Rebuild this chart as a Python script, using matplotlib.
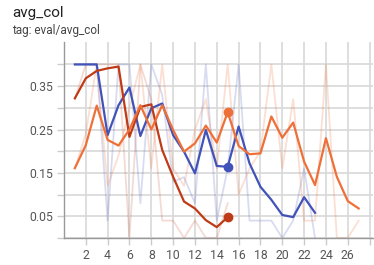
import matplotlib
matplotlib.use("Agg")
import matplotlib.pyplot as plt

plt.rcParams['font.family'] = ['Roboto', 'DejaVu Sans']

# step numbers
steps_blue = list(range(1, 24))
steps_red = list(range(1, 16))
steps_orange = list(range(1, 28))

# raw values (faint lines)
blue_raw = [0.40, 0.40, 0.40, 0.04, 0.40, 0.40, 0.08, 0.40, 0.33, 0.13, 0.14, 0.08,
            0.40, 0.04, 0.16, 0.40, 0.04, 0.04, 0.04, 0.00, 0.04, 0.16, 0.00]
red_raw = [0.32, 0.40, 0.40, 0.40, 0.40, 0.00, 0.40, 0.32, 0.04, 0.04, 0.00, 0.04,
           0.00, 0.00, 0.08]
orange_raw = [0.16, 0.24, 0.40, 0.12, 0.19, 0.30, 0.40, 0.16, 0.40, 0.16, 0.12, 0.25,
              0.32, 0.16, 0.40, 0.10, 0.16, 0.20, 0.40, 0.16, 0.32, 0.04, 0.04, 0.40,
              0.00, 0.00, 0.04]

# smoothed values (bold lines)
blue_smooth = [0.400, 0.400, 0.400, 0.237, 0.306, 0.347, 0.235, 0.299, 0.310, 0.237,
               0.199, 0.149, 0.249, 0.166, 0.164, 0.257, 0.172, 0.118, 0.088, 0.053,
               0.048, 0.094, 0.058]
red_smooth = [0.322, 0.368, 0.385, 0.391, 0.395, 0.233, 0.302, 0.308, 0.203, 0.141,
              0.084, 0.068, 0.041, 0.025, 0.048]
orange_smooth = [0.161, 0.214, 0.305, 0.226, 0.213, 0.250, 0.306, 0.250, 0.306, 0.249,
                 0.199, 0.218, 0.259, 0.220, 0.290, 0.212, 0.193, 0.195, 0.280, 0.231,
                 0.266, 0.176, 0.122, 0.230, 0.141, 0.085, 0.068]

hover_step = 15

c_blue = '#4152b8'
c_red = '#bf3a16'
c_orange = '#ee7038'

fig = plt.figure(figsize=(3.74, 2.65), dpi=100)
ax = fig.add_axes([0.171, 0.102, 0.826, 0.74])

ax.plot(steps_blue, blue_raw, color=c_blue, alpha=0.2, lw=1.3, zorder=2)
ax.plot(steps_red, red_raw, color=c_red, alpha=0.18, lw=1.3, zorder=2)
ax.plot(steps_orange, orange_raw, color=c_orange, alpha=0.22, lw=1.3, zorder=2)

ax.plot(steps_blue, blue_smooth, color=c_blue, lw=1.6, zorder=4)
ax.plot(steps_red, red_smooth, color=c_red, lw=1.6, zorder=4)
ax.plot(steps_orange, orange_smooth, color=c_orange, lw=1.6, zorder=4)

for st, sm, c in [(steps_blue, blue_smooth, c_blue), (steps_red, red_smooth, c_red),
                  (steps_orange, orange_smooth, c_orange)]:
    i = st.index(hover_step)
    ax.plot([st[i]], [sm[i]], 'o', color=c, ms=6, zorder=5)

ax.set_xlim(0, 28.3)
ax.set_ylim(0, 0.452)

ax.set_xticks(list(range(2, 27, 2)))
ax.set_xticks([28], minor=True)
ax.set_yticks([0.05, 0.15, 0.25, 0.35])
ax.set_yticklabels(['0.05', '0.15', '0.25', '0.35'])
ax.set_yticks([0.0, 0.1, 0.2, 0.3, 0.4], minor=True)

ax.grid(True, which='both', color='#d8d8d8', lw=1.2, zorder=0)
ax.tick_params(which='both', color='#cccccc', length=5, width=1, labelsize=8.8,
               labelcolor='#555555', pad=3)
for s in ['top', 'right']:
    ax.spines[s].set_visible(False)
for s in ['left', 'bottom']:
    ax.spines[s].set_color('#999999')
    ax.spines[s].set_linewidth(1)

fig.text(0.032, 0.935, 'avg_col', fontsize=11, color='#212121')
fig.text(0.032, 0.87, 'tag: eval/avg_col', fontsize=8.5, color='#444444')

fig.savefig('out.png', dpi=100)
